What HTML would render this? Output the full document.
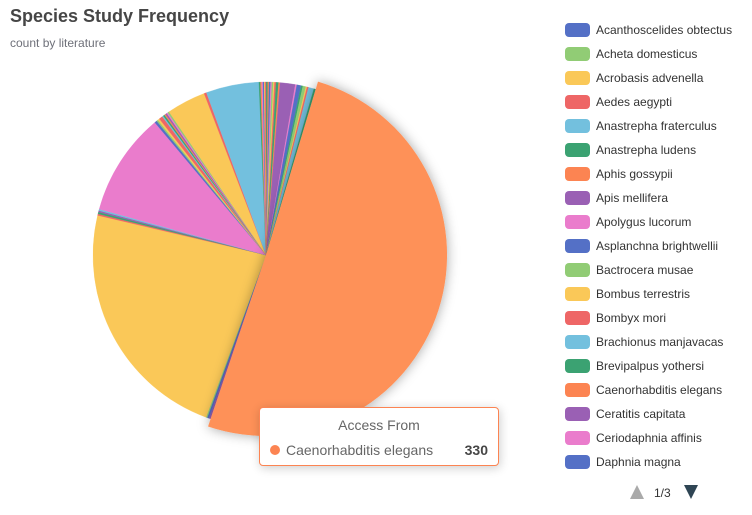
<!DOCTYPE html>
<html><head><meta charset="utf-8">
<style>
html,body{margin:0;padding:0;background:#fff;}
body{width:752px;height:515px;position:relative;overflow:hidden;font-family:"Liberation Sans",sans-serif;}
.t{position:absolute;left:10px;top:6px;font-size:18px;font-weight:bold;color:#464646;}
.s{position:absolute;left:10px;top:36px;font-size:12px;color:#6e7079;}
.lg{position:absolute;left:565px;font-size:12px;color:#333;height:14px;line-height:14px;white-space:nowrap;}
.lg i{display:inline-block;width:25px;height:14px;border-radius:4px;vertical-align:top;margin-right:6px;}
.tip{position:absolute;left:259px;top:407px;width:238px;height:57px;border:1px solid #fc8452;border-radius:4px;background:#fff;box-shadow:1px 2px 10px rgba(0,0,0,0.2);font-size:14px;color:#666;}
</style></head><body>
<svg width="752" height="515" style="position:absolute;left:0;top:0">
<defs><filter id="sh" x="-30%" y="-30%" width="160%" height="160%"><feDropShadow dx="0" dy="0" stdDeviation="6" flood-color="#000" flood-opacity="0.35"/></filter></defs>
<g id="pie"></g>
<polygon points="630,499 644,499 637,485" fill="#aaa"/>
<text x="654" y="497" font-size="12" fill="#333" font-family="Liberation Sans">1/3</text>
<polygon points="684,485 698,485 691,499" fill="#2f4554"/>
</svg>
<div class="t">Species Study Frequency</div>
<div class="s">count by literature</div>
<div id="legend"></div>
<div class="tip">
<div style="position:absolute;top:9px;width:100%;text-align:center;">Access From</div>
<div style="position:absolute;top:34px;left:10px;"><span style="display:inline-block;width:10px;height:10px;border-radius:5px;background:#fc8452;margin-right:6px;"></span>Caenorhabditis elegans</div>
<div style="position:absolute;top:34px;right:10px;font-weight:bold;color:#464646;">330</div>
</div>
<script>
var C=['#5470c6','#91cc75','#fac858','#ee6666','#73c0de','#3ba272','#fc8452','#9a60b4','#ea7ccc'];
var cx=266,cy=255,r=173;
var sl=[[0.6,5],[0.4,6],[0.5,0],[0.4,8],[0.5,1],[0.4,2],[0.5,3],[0.8,5],[0.5,6],
[5,7],[0.5,8],[1.4,0],[0.6,5],[1.0,1],[0.4,2],[0.5,3],[1.8,4],[0.6,5],
[178.8,6],[0.6,7],[0.6,0],[0.4,1],
[81.5,2],[0.5,3],[0.6,5],[0.5,7],[0.5,4],
[34,8],[0.8,0],[0.5,1],[0.6,2],[1.2,3],[0.4,4],[0.5,5],[0.4,6],[0.5,7],[0.4,8],[0.5,1],
[12.9,2],[0.8,3],[17.5,4],[0.5,5],[0.4,6],[0.4,8],[0.4,0],[0.3,2],[0.3,3]];
var tot=0;sl.forEach(function(s){tot+=s[0];});
var a=0,out='',em='';
function pt(d,rr){var t=d*Math.PI/180;return (cx+rr*Math.sin(t)).toFixed(2)+','+(cy-rr*Math.cos(t)).toFixed(2);}
sl.forEach(function(s){var w=s[0]*360/tot,b=a+w;
var rr=(s[0]>100)?181:r;
var p='M'+cx+','+cy+' L'+pt(a,rr)+' A'+rr+','+rr+' 0 '+(w>180?1:0)+' 1 '+pt(b,rr)+' Z';
var el='<path d="'+p+'" fill="'+C[s[1]]+'" stroke="'+C[s[1]]+'" stroke-width="0.3"/>';
if(s[0]>100)em='<path d="'+p+'" fill="#fe9158" filter="url(#sh)"/>';else out+=el;a=b;});
document.getElementById('pie').innerHTML=out+em;
var names=['Acanthoscelides obtectus','Acheta domesticus','Acrobasis advenella','Aedes aegypti','Anastrepha fraterculus','Anastrepha ludens','Aphis gossypii','Apis mellifera','Apolygus lucorum','Asplanchna brightwellii','Bactrocera musae','Bombus terrestris','Bombyx mori','Brachionus manjavacas','Brevipalpus yothersi','Caenorhabditis elegans','Ceratitis capitata','Ceriodaphnia affinis','Daphnia magna'];
var h='';names.forEach(function(n,i){h+='<div class="lg" style="top:'+(23+24*i)+'px"><i style="background:'+C[i%9]+'"></i>'+n+'</div>';});
document.getElementById('legend').innerHTML=h;
</script>
</body></html>
